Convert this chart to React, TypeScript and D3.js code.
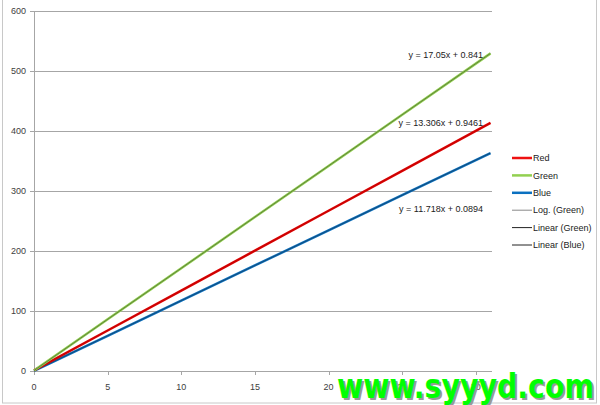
import React from "react";
import * as d3 from "d3";

const xValues = [0, 5, 10, 15, 20, 25, 30, 31];
const redValues = [0.9, 67.5, 134.0, 200.5, 267.1, 333.6, 400.1, 413.4];
const greenValues = [0.8, 86.1, 171.3, 256.6, 341.8, 427.1, 512.3, 529.4];
const blueValues = [0.1, 58.7, 117.3, 175.9, 234.4, 293.0, 351.6, 363.3];
const xTicks = [0, 5, 10, 15, 20, 25, 30];
const yTicks = [0, 100, 200, 300, 400, 500, 600];
const equations = ["y = 17.05x + 0.841", "y = 13.306x + 0.9461", "y = 11.718x + 0.0894"];
const equationAnchors = [
  { x: 31, y: 529.4 },
  { x: 31, y: 413.4 },
  { x: 31, y: 363.3 },
];
const legendLabels = ["Red", "Green", "Blue", "Log. (Green)", "Linear (Green)", "Linear (Blue)"];
const legendColors = ["#ee1111", "#92d050", "#0a70c0", "#888888", "#222222", "#222222"];
const legendWidths = [2.5, 2.5, 2.5, 1, 1, 1];

export default function App() {
  const W = 600, H = 405;
  const x = d3.scaleLinear().domain([0, 31.1]).range([34, 492]);
  const y = d3.scaleLinear().domain([0, 600]).range([371, 11]);
  const line = d3
    .line<number>()
    .x((_, i) => x(xValues[i]))
    .y((d) => y(d));
  const font = "'Liberation Sans', Arial, sans-serif";
  const textColor = "#404040";
  const eqOffsets = [1, 0, 56];
  return (
    <svg
      width={W}
      height={H}
      style={{ position: "absolute", left: 0, top: 0, background: "#fff" }}
      fontFamily={font}
    >
      <rect x={2.5} y={-1} width={594} height={404} fill="#fff" stroke="#c8c8c8" strokeWidth={1} />
      {yTicks.map((t) => (
        <g key={"y" + t}>
          {t > 0 && (
            <line x1={x(0)} x2={492} y1={Math.round(y(t)) + 0.5} y2={Math.round(y(t)) + 0.5} stroke="#a6a6a6" strokeWidth={1} />
          )}
          <line x1={30} x2={34} y1={Math.round(y(t)) + 0.5} y2={Math.round(y(t)) + 0.5} stroke="#a6a6a6" />
          <text x={26} y={y(t)} dy="0.35em" textAnchor="end" fontSize={9} fill={textColor}>
            {t}
          </text>
        </g>
      ))}
      <line x1={34.5} x2={34.5} y1={y(600)} y2={375} stroke="#a6a6a6" />
      <line x1={34} x2={492} y1={371.5} y2={371.5} stroke="#a6a6a6" />
      {xTicks.map((t) => (
        <g key={"x" + t}>
          <line x1={Math.round(x(t)) + 0.5} x2={Math.round(x(t)) + 0.5} y1={371} y2={375} stroke="#a6a6a6" />
          <text x={x(t)} y={387} dy="0.35em" textAnchor="middle" fontSize={9} fill={textColor}>
            {t}
          </text>
        </g>
      ))}
      <path d={line(blueValues) || ""} fill="none" stroke="#0a70c0" strokeWidth={2.5} />
      <path d={line(blueValues) || ""} fill="none" stroke="#222" strokeWidth={1} opacity={0.45} />
      <path d={line(redValues) || ""} fill="none" stroke="#e00000" strokeWidth={2.5} />
      <path d={line(redValues) || ""} fill="none" stroke="#222" strokeWidth={0.8} opacity={0.2} />
      <path d={line(greenValues) || ""} fill="none" stroke="#92d050" strokeWidth={2.5} />
      <path d={line(greenValues) || ""} fill="none" stroke="#222" strokeWidth={1} opacity={0.45} />
      {equations.map((e, i) => (
        <text
          key={e}
          x={483}
          y={y(equationAnchors[i].y) + eqOffsets[i]}
          dy="0.35em"
          textAnchor="end"
          fontSize={9}
          fill="#222"
        >
          {e}
        </text>
      ))}
      {legendLabels.map((l, i) => (
        <g key={l} transform={`translate(0, ${158 + i * 17.4})`}>
          <line x1={512} x2={532} y1={0} y2={0} stroke={legendColors[i]} strokeWidth={legendWidths[i]} />
          <text x={533} y={0} dy="0.35em" fontSize={9} fill="#222">
            {l}
          </text>
        </g>
      ))}
      <g fontFamily="'DejaVu Sans', sans-serif" fontWeight={900} fontSize={34}>
        <text x={339} y={400} textLength={257} lengthAdjust="spacingAndGlyphs" fill="#9a9a9a">
          www.syyyd.com
        </text>
        <text x={337} y={398} textLength={257} lengthAdjust="spacingAndGlyphs" fill="#00ff00">
          www.syyyd.com
        </text>
      </g>
    </svg>
  );
}
